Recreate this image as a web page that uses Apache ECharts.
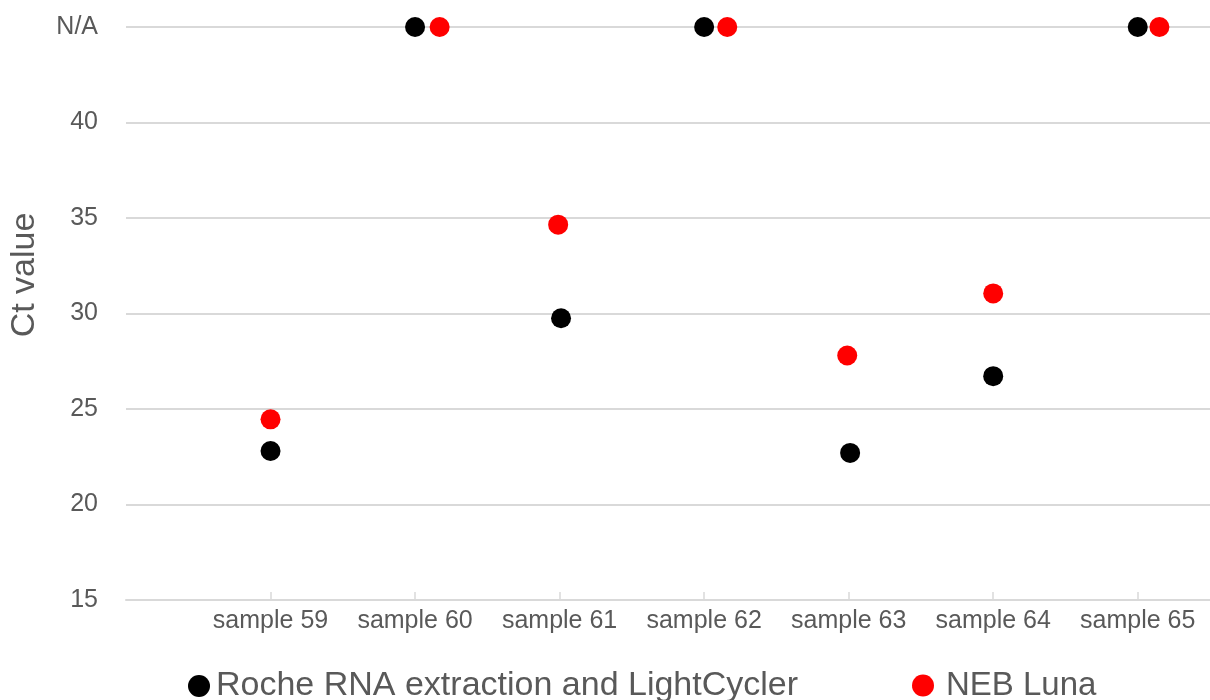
<!DOCTYPE html>
<html>
<head>
<meta charset="utf-8">
<script src="https://cdn.jsdelivr.net/npm/echarts@6/dist/echarts.min.js"></script>
<style>
html,body{margin:0;padding:0;background:#fff;}
#chart{width:1210px;height:700px;}
</style>
</head>
<body>
<div id="chart"></div>
<script>
// ---- data ----
var categories = ['sample 59','sample 60','sample 61','sample 62','sample 63','sample 64','sample 65'];
var categoryPos = [1, 2, 3, 4, 5, 6, 7];
var NA_VALUE = 45; // plotted on the "N/A" row
var rocheX = [1, 2, 3.01, 4, 5.01, 6, 7];
var rocheY = [22.8, 45, 29.75, 45, 22.7, 26.72, 45];
var nebX = [1, 2.17, 2.99, 4.16, 4.99, 6, 7.15];
var nebY = [24.46, 45, 34.65, 45, 27.8, 31.05, 45];
var yTicks = [15, 20, 25, 30, 35, 40, 45];
var yTickLabels = ['15', '20', '25', '30', '35', '40', 'N/A'];
var seriesNames = ['Roche RNA extraction and LightCycler', 'NEB Luna'];
var seriesColors = ['#000000', '#ff0000'];

function pairs(xs, ys) { return xs.map(function (x, i) { return [x, ys[i]]; }); }

var FONT = 'Liberation Sans';
var chart = echarts.init(document.getElementById('chart'), null, {renderer: 'canvas'});
chart.setOption({
  animation: false,
  backgroundColor: '#ffffff',
  textStyle: {fontFamily: FONT},
  grid: {left: 126, top: 27, width: 1087, height: 573, containLabel: false},
  xAxis: {
    type: 'value', min: 0, max: 7.5,
    splitLine: {show: false},
    axisLine: {show: true, lineStyle: {color: '#d9d9d9', width: 2}},
    axisTick: {show: true, inside: true, length: 8, customValues: categoryPos,
      lineStyle: {color: '#d9d9d9', width: 1.5}},
    axisLabel: {
      customValues: categoryPos, margin: 9,
      fontFamily: FONT, fontSize: 25, color: '#595959',
      formatter: function (v) { var i = categoryPos.indexOf(Math.round(v)); return i >= 0 ? categories[i] : ''; }
    }
  },
  yAxis: {
    type: 'value', min: 15, max: 45, interval: 5,
    axisLine: {show: false}, axisTick: {show: false},
    splitLine: {show: true, lineStyle: {color: '#d9d9d9', width: 2}},
    axisLabel: {
      margin: 28, fontFamily: FONT, fontSize: 25, color: '#595959',
      formatter: function (v) { var i = yTicks.indexOf(v); return i >= 0 ? yTickLabels[i] : ''; }
    }
  },
  legend: [
    {data: [seriesNames[0]], left: 183, top: 664, icon: 'circle', itemWidth: 22, itemHeight: 22, itemGap: 0,
     itemStyle: {opacity: 1},
     textStyle: {fontFamily: FONT, fontSize: 34, color: '#595959', padding: [0, 0, 0, 1]}},
    {data: [seriesNames[1]], left: 907, top: 664, icon: 'circle', itemWidth: 22, itemHeight: 22, itemGap: 0,
     itemStyle: {opacity: 1},
     textStyle: {fontFamily: FONT, fontSize: 33, color: '#595959', padding: [0, 0, 0, 7]}}
  ],
  graphic: [{
    type: 'text', x: 25, y: 275, rotation: Math.PI / 2,
    style: {text: 'Ct value', fontFamily: FONT, fontSize: 34, fill: '#595959', align: 'center', verticalAlign: 'middle'}
  }],
  series: [
    {name: seriesNames[0], type: 'scatter', symbol: 'circle', symbolSize: 20,
     itemStyle: {color: seriesColors[0], opacity: 1}, data: pairs(rocheX, rocheY)},
    {name: seriesNames[1], type: 'scatter', symbol: 'circle', symbolSize: 20,
     itemStyle: {color: seriesColors[1], opacity: 1}, data: pairs(nebX, nebY)}
  ]
});
</script>
</body>
</html>
